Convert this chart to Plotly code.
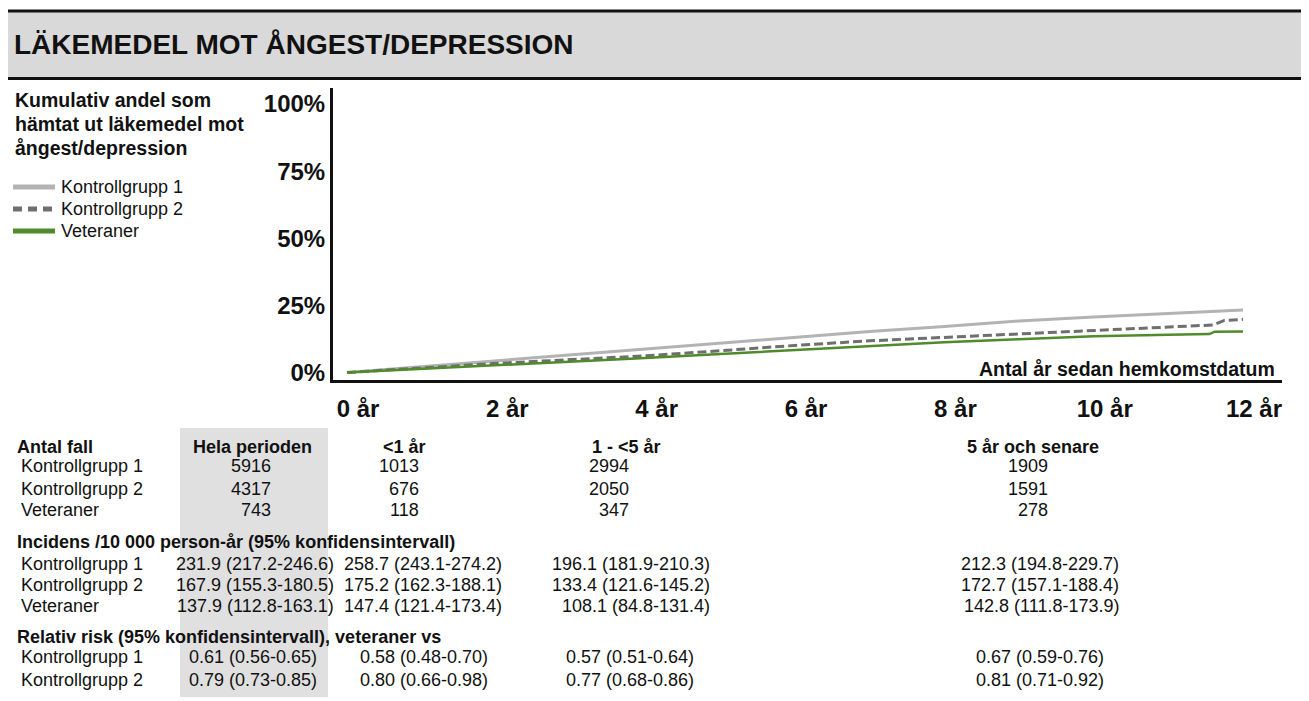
import plotly.graph_objects as go

# ---------------- data ----------------
k1_years = [0, 1, 2, 3, 4, 5, 6, 7, 8, 9, 10, 11, 12]
k1_pct = [0, 2.2, 4.4, 6.6, 8.8, 10.9, 13.0, 15.3, 17.1, 19.2, 20.7, 22.0, 23.3]

k2_years = [0, 1, 2, 3, 4, 5, 6, 7, 8, 9, 10, 11, 11.6, 11.75, 12]
k2_pct = [0, 1.7, 3.4, 4.8, 6.2, 8.1, 10.1, 11.8, 13.1, 14.4, 15.6, 16.9, 17.7, 19.4, 19.8]

vet_years = [0, 1, 2, 3, 4, 5, 6, 7, 8, 9, 10, 11, 11.55, 11.62, 12]
vet_pct = [0, 1.3, 2.6, 4.0, 5.4, 6.9, 8.3, 9.9, 11.3, 12.4, 13.5, 14.1, 14.3, 15.2, 15.3]

series_names = ["Kontrollgrupp 1", "Kontrollgrupp 2", "Veteraner"]

x_tickvals = [0, 2, 4, 6, 8, 10, 12]
x_ticktext = ["0 år", "2 år", "4 år", "6 år", "8 år", "10 år", "12 år"]
y_tickvals = [0, 25, 50, 75, 100]
y_ticktext = ["0%", "25%", "50%", "75%", "100%"]

title_text = "LÄKEMEDEL MOT ÅNGEST/DEPRESSION"
ytitle_lines = ["Kumulativ andel som", "hämtat ut läkemedel mot", "ångest/depression"]
xtitle_text = "Antal år sedan hemkomstdatum"

period_headers = ["Hela perioden", "<1 år", "1 - <5 år", "5 år och senare"]
group_rows = ["Kontrollgrupp 1", "Kontrollgrupp 2", "Veteraner"]
cases = [
    ["5916", "1013", "2994", "1909"],
    ["4317", "676", "2050", "1591"],
    ["743", "118", "347", "278"],
]
incidence = [
    ["231.9 (217.2-246.6)", "258.7 (243.1-274.2)", "196.1 (181.9-210.3)", "212.3 (194.8-229.7)"],
    ["167.9 (155.3-180.5)", "175.2 (162.3-188.1)", "133.4 (121.6-145.2)", "172.7 (157.1-188.4)"],
    ["137.9 (112.8-163.1)", "147.4 (121.4-173.4)", "108.1 (84.8-131.4)", "142.8 (111.8-173.9)"],
]
rr_rows = ["Kontrollgrupp 1", "Kontrollgrupp 2"]
rel_risk = [
    ["0.61 (0.56-0.65)", "0.58 (0.48-0.70)", "0.57 (0.51-0.64)", "0.67 (0.59-0.76)"],
    ["0.79 (0.73-0.85)", "0.80 (0.66-0.98)", "0.77 (0.68-0.86)", "0.81 (0.71-0.92)"],
]
section_titles = [
    "Antal fall",
    "Incidens /10 000 person-år (95% konfidensintervall)",
    "Relativ risk (95% konfidensintervall), veteraner vs",
]

# ---------------- layout geometry (reference window pixels) ----------------
WIN_W, WIN_H = 1309, 701
BODY = 8  # default page margin around the plot div
W, H = WIN_W - BODY, WIN_H - BODY
PL, PR, PT, PB = 333, 1282, 88, 380
FONT = "Liberation Sans, Arial, sans-serif"
C_K1 = "#b3b3b3"
C_K2 = "#6f6f6f"
C_VET = "#4f8a2b"


def px(x):
    return (x - PL) / (PR - PL)


def py(y):
    return (PB - y) / (PB - PT)


fig = go.Figure()
fig.add_trace(go.Scatter(x=k1_years, y=k1_pct, mode="lines", name=series_names[0],
                         line=dict(color=C_K1, width=3)))
fig.add_trace(go.Scatter(x=k2_years, y=k2_pct, mode="lines", name=series_names[1],
                         line=dict(color=C_K2, width=3, dash="9px,4px")))
fig.add_trace(go.Scatter(x=vet_years, y=vet_pct, mode="lines", name=series_names[2],
                         line=dict(color=C_VET, width=2.5)))

ann = []


def add_text(text, x, y, size=18, bold=False, xanchor="left", yanchor="middle", color="#111"):
    ann.append(dict(text=("<b>%s</b>" % text) if bold else text,
                    x=px(x), y=py(y), xref="paper", yref="paper",
                    xanchor=xanchor, yanchor=yanchor, showarrow=False,
                    font=dict(family=FONT, size=size, color=color)))


shapes = []
# title band
shapes.append(dict(type="rect", xref="paper", yref="paper", x0=px(3), x1=px(1312), y0=py(11), y1=py(78.5),
                   fillcolor="#d9d9d9", line=dict(width=0), layer="below"))
shapes.append(dict(type="line", xref="paper", yref="paper", x0=px(3), x1=px(1312), y0=py(11), y1=py(11),
                   line=dict(color="#111", width=3)))
shapes.append(dict(type="line", xref="paper", yref="paper", x0=px(3), x1=px(1312), y0=py(78.5), y1=py(78.5),
                   line=dict(color="#111", width=3)))
add_text(title_text, 12, 45, size=28, bold=True)

# y title block
for i, line in enumerate(ytitle_lines):
    add_text(line, 13, 100 + 24 * i, size=19.5, bold=True)

# manual legend
leg_y = [187, 209, 231]
leg_col = [C_K1, C_K2, C_VET]
for i, nm in enumerate(series_names):
    yy = leg_y[i]
    if i == 1:
        for k in range(3):
            shapes.append(dict(type="line", xref="paper", yref="paper",
                               x0=px(13 + 15 * k), x1=px(22 + 15 * k), y0=py(yy), y1=py(yy),
                               line=dict(color=leg_col[i], width=5)))
    else:
        shapes.append(dict(type="line", xref="paper", yref="paper", x0=px(13), x1=px(55),
                           y0=py(yy), y1=py(yy), line=dict(color=leg_col[i], width=5)))
    add_text(nm, 59, yy, size=18)

# x axis title
add_text(xtitle_text, 1277, 369, size=19.5, bold=True, xanchor="right")

# table background column
shapes.append(dict(type="rect", xref="paper", yref="paper", x0=px(180), x1=px(328), y0=py(428), y1=py(697),
                   fillcolor="#e0e0e0", line=dict(width=0), layer="below"))

# table: counts
add_text(section_titles[0], 15, 447, bold=True)
header_cx = [252, 404, 626, 1033]
for h, cx in zip(period_headers, header_cx):
    add_text(h, cx, 447, bold=True, xanchor="center")
case_right = [273, 421, 631, 1050]
case_y = [466, 489, 510]
for r, name in enumerate(group_rows):
    add_text(name, 19, case_y[r])
    for c in range(4):
        add_text(cases[r][c], case_right[c], case_y[r], xanchor="right")

# table: incidence
add_text(section_titles[1], 15, 542, bold=True)
inc_right = [336, 504, 712, 1121]
inc_y = [564, 585, 606]
for r, name in enumerate(group_rows):
    add_text(name, 19, inc_y[r])
    for c in range(4):
        add_text(incidence[r][c], inc_right[c], inc_y[r], xanchor="right")

# table: relative risk
add_text(section_titles[2], 15, 637, bold=True)
rr_right = [319, 490, 696, 1106]
rr_y = [657, 680]
for r, name in enumerate(rr_rows):
    add_text(name, 19, rr_y[r])
    for c in range(4):
        add_text(rel_risk[r][c], rr_right[c], rr_y[r], xanchor="right")

fig.update_layout(
    width=W, height=H,
    margin=dict(l=PL - BODY, r=WIN_W - PR, t=PT - BODY, b=WIN_H - PB, pad=0),
    paper_bgcolor="white", plot_bgcolor="white",
    showlegend=False,
    font=dict(family=FONT, color="#111"),
    annotations=ann, shapes=shapes,
    xaxis=dict(range=[-(347 - PL) / 74.67, (PR - 347) / 74.67], showgrid=False, zeroline=False,
               showline=True, linecolor="#111", linewidth=3, ticks="",
               tickvals=x_tickvals, ticktext=["<b>%s</b>" % t for t in x_ticktext],
               tickfont=dict(family=FONT, size=24, color="#111"),
               ticklabelshift=11, ticklabelstandoff=5, fixedrange=True),
    yaxis=dict(range=[-(PB - 372.5) / 2.685, (372.5 - PT) / 2.685], showgrid=False, zeroline=False,
               showline=True, linecolor="#111", linewidth=3, ticks="",
               tickvals=y_tickvals, ticktext=["<b>%s</b>" % t for t in y_ticktext],
               tickfont=dict(family=FONT, size=24, color="#111"),
               ticklabelstandoff=0, fixedrange=True),
)

fig.write_html("out.html")
